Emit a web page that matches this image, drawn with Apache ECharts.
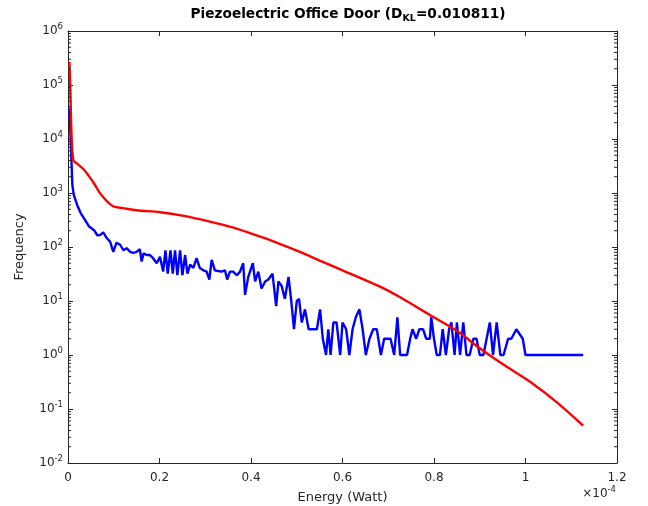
<!DOCTYPE html>
<html><head><meta charset="utf-8">
<script src="https://cdn.jsdelivr.net/npm/echarts@6/dist/echarts.min.js"></script>
<style>html,body{margin:0;padding:0;background:#fff}#c{width:648px;height:506px}</style>
</head><body><div id="c"></div>
<script>
// Energy values are in units of 1e-4 Watt (axis shows x10^-4)
const blueX = [0.003,0.0072,0.0095,0.013,0.020,0.028,0.035,0.046,0.057,0.064,0.070,0.077,0.085,0.092,0.099,0.106,0.114,0.121,0.128,0.136,0.143,0.150,0.157,0.161,0.165,0.172,0.179,0.186,0.194,0.201,0.208,0.213,0.218,0.224,0.229,0.234,0.239,0.245,0.250,0.256,0.261,0.267,0.274,0.281,0.288,0.296,0.303,0.309,0.314,0.321,0.328,0.336,0.343,0.348,0.354,0.361,0.369,0.376,0.383,0.387,0.394,0.404,0.409,0.416,0.423,0.431,0.438,0.442,0.447,0.455,0.460,0.467,0.474,0.482,0.488,0.494,0.500,0.505,0.511,0.518,0.526,0.535,0.544,0.551,0.557,0.564,0.569,0.574,0.580,0.587,0.595,0.600,0.608,0.615,0.622,0.629,0.637,0.644,0.651,0.659,0.667,0.675,0.684,0.691,0.698,0.705,0.713,0.720,0.726,0.733,0.741,0.748,0.753,0.761,0.768,0.776,0.783,0.791,0.794,0.800,0.806,0.813,0.819,0.826,0.833,0.838,0.845,0.850,0.857,0.864,0.871,0.878,0.886,0.893,0.900,0.908,0.915,0.922,0.929,0.937,0.945,0.952,0.962,0.969,0.980,0.994,1.000,1.126];
const blueY = [38000,5000,1400,900,600,420,340,240,205,165,166,186,145,126,81,120,110,87,95,81,78,81,91,54,76,71,71,62,50,66,35,87,32,87,32,87,30,87,30,71,32,47,41,62,41,37,35,25,58,37,36,35,37,25,35,35,30,35,50,13,28,50,23,35,17,23,25,26,32,8,23,19,11,28,10,3,10,11,4,7,3,3,3,7,2,1,3,1,4,4,1,4,3,1,3,5,7,3,1,2,3,3,1,2,2,2,1,5,1,1,1,2,3,2,3,3,2,2,5,2,1,1,3,1,3,4,1,4,1,4,1,1,2,2,1,1,2,4,1,4,1,1,2,2,3,2,1,1];
const redX = [0.003,0.005,0.008,0.012,0.020,0.035,0.045,0.057,0.068,0.079,0.090,0.100,0.120,0.150,0.201,0.250,0.310,0.360,0.420,0.460,0.507,0.550,0.600,0.682,0.726,0.791,0.850,0.900,0.950,1.010,1.070,1.126];
const redY = [270000,90000,10000,4000,3500,2700,2100,1500,1050,800,640,560,525,480,440,380,295,230,155,117,81,56,37,18.4,11.7,5.5,2.8,1.33,0.68,0.32,0.13,0.049];
const xTicks = [0,0.2,0.4,0.6,0.8,1,1.2];
const yDecades = [-2,-1,0,1,2,3,4,5,6];
const minorMultipliers = [2,3,4,5,6,7,8,9];

const FONT = 'DejaVu Sans';
const INK = '#262626';
const minorTicks = [];
yDecades.slice(0, -1).forEach(d => minorMultipliers.forEach(m => minorTicks.push([0, m * Math.pow(10, d)])));

const chart = echarts.init(document.getElementById('c'), null, {renderer: 'canvas'});
const supRich = {
  b: {fontSize: 12, fontFamily: FONT, color: INK},
  s: {fontSize: 8.5, fontFamily: FONT, color: INK, padding: [0, 0, 9, 0]}
};
chart.setOption({
  animation: false,
  backgroundColor: '#fff',
  title: {
    text: '{t|Piezoelectric Office Door (D}{sub|KL}{t|=0.010811)}',
    left: 343, textAlign: 'center', top: 0,
    textStyle: {
      rich: {
        t: {fontSize: 13.7, fontWeight: 'bold', fontFamily: FONT, color: '#000'},
        sub: {fontSize: 9.5, fontWeight: 'bold', fontFamily: FONT, color: '#000', padding: [9, 0, 0, 0]}
      }
    }
  },
  grid: {left: 68, right: 31, top: 31, bottom: 43, outerBoundsMode: 'none'},
  xAxis: [{
    type: 'value', min: xTicks[0], max: xTicks[xTicks.length - 1], interval: 0.2,
    name: 'Energy (Watt)', nameLocation: 'middle', nameGap: 28,
    nameTextStyle: {fontSize: 13, fontFamily: FONT, color: INK},
    axisLine: {show: true, onZero: false, lineStyle: {color: INK, width: 1}},
    axisTick: {show: true, inside: true, length: 5, lineStyle: {color: INK}},
    axisLabel: {fontSize: 12, fontFamily: FONT, color: INK, margin: 9},
    splitLine: {show: false}
  }, {
    type: 'value', position: 'top', min: xTicks[0], max: xTicks[xTicks.length - 1], interval: 0.2,
    axisLine: {show: true, onZero: false, lineStyle: {color: INK, width: 1}},
    axisTick: {show: true, inside: true, length: 5, lineStyle: {color: INK}},
    axisLabel: {show: false}, splitLine: {show: false}
  }],
  yAxis: [{
    type: 'log', logBase: 10, min: Math.pow(10, yDecades[0]), max: Math.pow(10, yDecades[yDecades.length - 1]),
    splitNumber: 8,
    name: 'Frequency', nameLocation: 'middle', nameGap: 42, nameRotate: 90,
    nameTextStyle: {fontSize: 13, fontFamily: FONT, color: INK},
    axisLine: {show: true, onZero: false, lineStyle: {color: INK, width: 1}},
    axisTick: {show: true, inside: true, length: 5, lineStyle: {color: INK}},
    axisLabel: {
      margin: 5, rich: supRich,
      formatter: v => '{b|10}{s|' + Math.round(Math.log10(v)) + '}'
    },
    splitLine: {show: false}
  }, {
    type: 'log', logBase: 10, position: 'right', min: Math.pow(10, yDecades[0]), max: Math.pow(10, yDecades[yDecades.length - 1]),
    splitNumber: 8,
    axisLine: {show: true, onZero: false, lineStyle: {color: INK, width: 1}},
    axisTick: {show: true, inside: true, length: 5, lineStyle: {color: INK}},
    axisLabel: {show: false}, splitLine: {show: false}
  }],
  graphic: [{
    type: 'text', right: 32, bottom: 6,
    style: {
      text: '{m|×10}{s|-4}',
      rich: {
        m: {fontSize: 12, fontFamily: FONT, fill: INK, color: INK},
        s: {fontSize: 8.5, fontFamily: FONT, fill: INK, color: INK, padding: [0, 0, 9, 0]}
      }
    }
  }],
  series: [{
    type: 'line', name: 'Histogram', xAxisIndex: 0, yAxisIndex: 0,
    data: blueX.map((x, i) => [x, blueY[i]]),
    showSymbol: false, symbol: 'none',
    lineStyle: {color: '#0000ff', width: 2.4}, itemStyle: {color: '#0000ff'}, z: 2
  }, {
    type: 'line', name: 'Fit', xAxisIndex: 0, yAxisIndex: 0,
    data: redX.map((x, i) => [x, redY[i]]),
    showSymbol: false, symbol: 'none', smooth: 0.3,
    lineStyle: {color: '#ff0000', width: 2.4}, itemStyle: {color: '#ff0000'}, z: 3
  }, {
    type: 'custom', silent: true, xAxisIndex: 0, yAxisIndex: 0, z: 4,
    data: minorTicks,
    renderItem: (params, api) => {
      const v = api.value(1);
      const pl = api.coord([xTicks[0], v]);
      const pr = api.coord([xTicks[xTicks.length - 1], v]);
      return {type: 'group', children: [
        {type: 'line', shape: {x1: pl[0], y1: pl[1], x2: pl[0] + 3, y2: pl[1]}, style: {stroke: INK, lineWidth: 1}},
        {type: 'line', shape: {x1: pr[0], y1: pr[1], x2: pr[0] - 3, y2: pr[1]}, style: {stroke: INK, lineWidth: 1}}
      ]};
    }
  }]
});
</script></body></html>
